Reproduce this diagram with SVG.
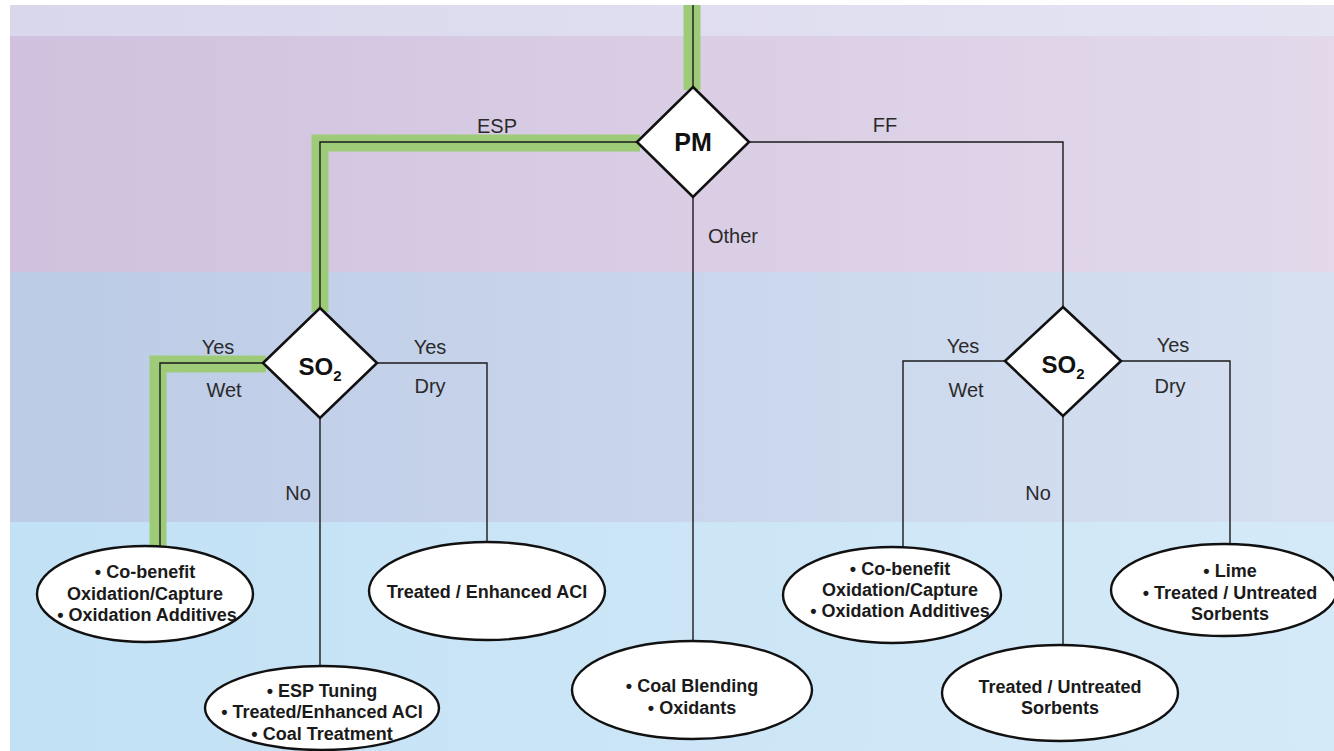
<svg xmlns="http://www.w3.org/2000/svg" width="1334" height="751" viewBox="0 0 1334 751">
<defs>
<linearGradient id="g0" x1="0" x2="1" y1="0" y2="0"><stop offset="0" stop-color="#d9d7ec"/><stop offset="1" stop-color="#e5e4f3"/></linearGradient>
<linearGradient id="g1" x1="0" x2="1" y1="0" y2="0"><stop offset="0" stop-color="#d0c1de"/><stop offset="1" stop-color="#e3d9eb"/></linearGradient>
<linearGradient id="g2" x1="0" x2="1" y1="0" y2="0"><stop offset="0" stop-color="#bccbe6"/><stop offset="1" stop-color="#d6e0f1"/></linearGradient>
<linearGradient id="g3" x1="0" x2="1" y1="0" y2="0"><stop offset="0" stop-color="#c2e1f5"/><stop offset="1" stop-color="#d5eaf8"/></linearGradient>
</defs>
<style>
.hl{fill:none;stroke:#9ecb78;stroke-width:17;stroke-linejoin:miter;stroke-linecap:butt}
.ln{fill:none;stroke:#1a1a1a;stroke-width:1.4}
.dm{fill:#ffffff;stroke:#111111;stroke-width:2.6}
.el{fill:#ffffff;stroke:#111111;stroke-width:2.4}
.lb{font-family:"Liberation Sans",Arial,sans-serif;font-size:20px;fill:#2a2a2a;text-anchor:middle}
.nt{font-family:"Liberation Sans",Arial,sans-serif;font-size:18px;font-weight:bold;fill:#1a1a1a;text-anchor:middle}
.dt{font-family:"Liberation Sans",Arial,sans-serif;font-weight:bold;fill:#111111;text-anchor:middle}
</style>
<rect x="0" y="0" width="1334" height="751" fill="#ffffff"/>
<rect x="10" y="5" width="1324" height="31" fill="url(#g0)"/>
<rect x="10" y="36" width="1324" height="236" fill="url(#g1)"/>
<rect x="10" y="272" width="1324" height="250" fill="url(#g2)"/>
<rect x="10" y="522" width="1324" height="229" fill="url(#g3)"/>

<g id="highlight">
<path class="hl" d="M692 5 V90"/>
<path class="hl" d="M640 143 H320 V312"/>
<path class="hl" d="M266 364 H158 V552"/>
</g>

<g id="connectors">
<path class="ln" d="M693 5 V87"/>
<path class="ln" d="M637 142 H320 V308"/>
<path class="ln" d="M749 142 H1063 V307"/>
<path class="ln" d="M693 197 V642"/>
<path class="ln" d="M263 363 H160 V548"/>
<path class="ln" d="M377 363 H487 V543"/>
<path class="ln" d="M320 418 V667"/>
<path class="ln" d="M1006 361 H903 V547"/>
<path class="ln" d="M1121 361 H1230 V545"/>
<path class="ln" d="M1063 416 V645"/>
<text class="lb" x="497" y="133">ESP</text>
<text class="lb" x="885" y="132">FF</text>
<text class="lb" x="733" y="243">Other</text>
<text class="lb" x="218" y="354">Yes</text>
<text class="lb" x="224" y="397">Wet</text>
<text class="lb" x="430" y="354">Yes</text>
<text class="lb" x="430" y="393">Dry</text>
<text class="lb" x="298" y="500">No</text>
<text class="lb" x="963" y="353">Yes</text>
<text class="lb" x="966" y="397">Wet</text>
<text class="lb" x="1173" y="352">Yes</text>
<text class="lb" x="1170" y="393">Dry</text>
<text class="lb" x="1038" y="500">No</text>
</g>

<g id="pm">
<polygon class="dm" points="693,87 749,142 693,197 637,142"/>
<text class="dt" x="693" y="151" font-size="25">PM</text>
</g>
<g id="so2-left">
<polygon class="dm" points="320,308 377,363 320,418 263,363"/>
<text class="dt" x="320" y="375" font-size="24">SO<tspan font-size="15" dy="6">2</tspan></text>
</g>
<g id="so2-right">
<polygon class="dm" points="1063,307 1121,361 1063,416 1005,361"/>
<text class="dt" x="1063" y="373" font-size="24">SO<tspan font-size="15" dy="6">2</tspan></text>
</g>

<g id="n-cobenefit-left">
<ellipse class="el" cx="145" cy="594" rx="108" ry="48"/>
<text class="nt" x="145" y="578">• Co-benefit</text>
<text class="nt" x="145" y="600">Oxidation/Capture</text>
<text class="nt" x="147" y="621">• Oxidation Additives</text>
</g>
<g id="n-treated-aci">
<ellipse class="el" cx="487" cy="591" rx="118" ry="49"/>
<text class="nt" x="487" y="598">Treated / Enhanced ACI</text>
</g>
<g id="n-esp-tuning">
<ellipse class="el" cx="322" cy="708" rx="117" ry="42"/>
<text class="nt" x="322" y="697">• ESP Tuning</text>
<text class="nt" x="322" y="718">• Treated/Enhanced ACI</text>
<text class="nt" x="322" y="740">• Coal Treatment</text>
</g>
<g id="n-coal-blending">
<ellipse class="el" cx="692" cy="690" rx="120" ry="49"/>
<text class="nt" x="692" y="692">• Coal Blending</text>
<text class="nt" x="692" y="714">• Oxidants</text>
</g>
<g id="n-cobenefit-right">
<ellipse class="el" cx="892" cy="595" rx="109" ry="48"/>
<text class="nt" x="900" y="575">• Co-benefit</text>
<text class="nt" x="900" y="596">Oxidation/Capture</text>
<text class="nt" x="900" y="617">• Oxidation Additives</text>
</g>
<g id="n-sorbents">
<ellipse class="el" cx="1060" cy="693" rx="118" ry="48"/>
<text class="nt" x="1060" y="693">Treated / Untreated</text>
<text class="nt" x="1060" y="714">Sorbents</text>
</g>
<g id="n-lime">
<ellipse class="el" cx="1224" cy="590" rx="113" ry="46"/>
<text class="nt" x="1230" y="577">• Lime</text>
<text class="nt" x="1230" y="599">• Treated / Untreated</text>
<text class="nt" x="1230" y="620">Sorbents</text>
</g>
</svg>
